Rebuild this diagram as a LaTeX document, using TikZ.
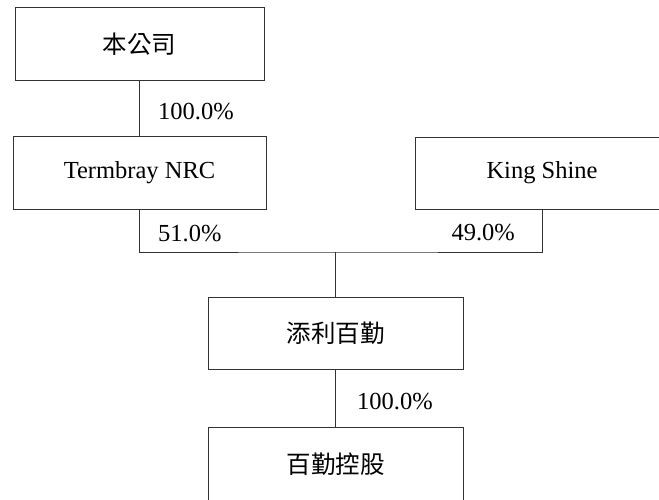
\documentclass[tikz,border=0pt]{standalone}
\usepackage{fontspec}
\setmainfont{Liberation Serif}
\newfontfamily\cjkfont{Noto Sans CJK TC}
\begin{document}
\begin{tikzpicture}[x=1pt,y=-1pt,
  entity/.style={draw=black!80, line width=1pt, fill=white, inner sep=0pt,
    font=\fontsize{24.5}{26}\selectfont},
  link/.style={draw=black!80, line width=1pt},
  pct/.style={inner sep=0pt, font=\fontsize{24.5}{26}\selectfont}]
\useasboundingbox (0,0) rectangle (659,499);
\clip (0,0) rectangle (659,499);
\fill[white] (0,0) rectangle (659,499);
\node[entity, minimum width=249pt, minimum height=72.5pt] (A) at (139.5,44) {\cjkfont 本公司};
\node[entity, minimum width=253pt, minimum height=73pt] (B) at (139.5,172.5) {Termbray NRC};
\node[entity, minimum width=254pt, minimum height=72pt] (C) at (542,173) {King Shine};
\node[entity, minimum width=255pt, minimum height=72pt] (D) at (335.5,333) {\cjkfont 添利百勤};
\node[entity, minimum width=255pt, minimum height=74pt] (E) at (335.5,464) {\cjkfont 百勤控股};
\coordinate (j) at (335.5,252);
\draw[link] (A) -- (B);
\draw[link] (B.south) |- (j) -| (C.south);
\draw[link] (j) -- (D.north);
\draw[link] (D) -- (E);
\node[pct, anchor=base west] (p1) at (158,119) {100.0\%};
\node[pct, anchor=base west] (p2) at (158,241) {51.0\%};
\node[pct, anchor=base east] (p3) at (515,240) {49.0\%};
\node[pct, anchor=base west] (p4) at (357,409) {100.0\%};
\end{tikzpicture}
\end{document}
